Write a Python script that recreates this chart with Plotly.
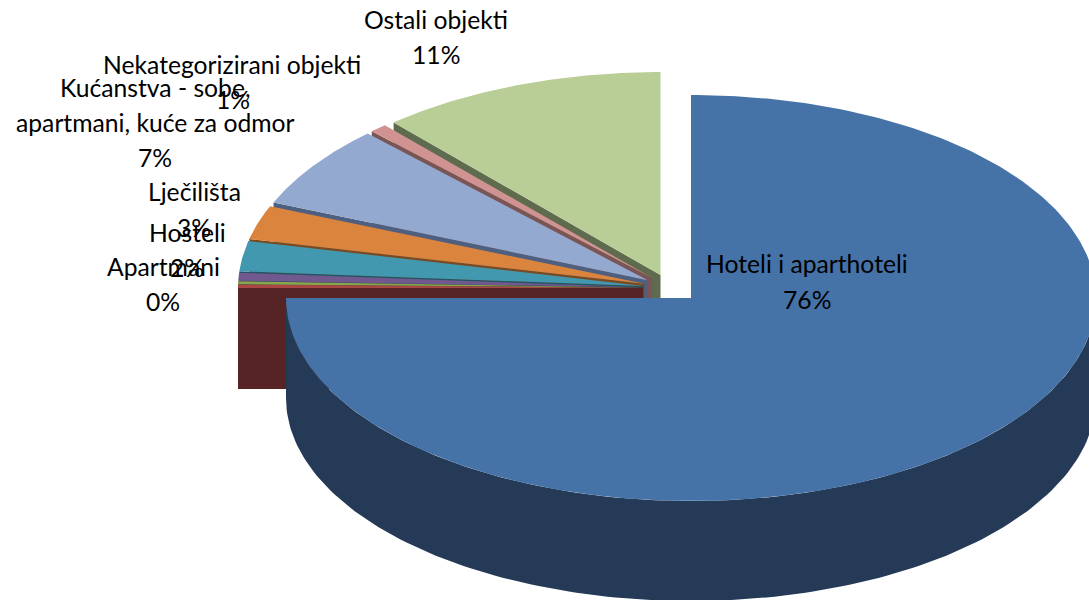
import numpy as np
import plotly.graph_objects as go

# data, clockwise from 12 o'clock (percent shares)
categories = ["Hoteli i aparthoteli", "Apartmani", "Kampovi", "Ostalo", "Hosteli", "Lječilišta",
              "Kućanstva", "Nekategorizirani objekti", "Ostali objekti"]
values = [75.0, 0.25, 0.25, 0.65, 2.4, 2.7, 6.6, 0.7, 11.45]
top_colors = ["#4572A7", "#AA4643", "#89A54E", "#71588F", "#4198AF", "#DB843D", "#93A9CF", "#D19392", "#B9CD96"]
side_colors = ["#243A57", "#562424", "#4A5A2A", "#3C2E4E", "#1F5566", "#7A4A20", "#4E5F7F", "#7A5555", "#5F6B4E"]

# label text: (line, x px, y px)
label_lines = ["Ostali objekti", "11%", "Nekategorizirani objekti", "1%", "Kućanstva - sobe,",
               "apartmani, kuće za odmor", "7%", "Lječilišta", "3%", "Hosteli", "2%",
               "Apartmani", "0%", "Hoteli i aparthoteli", "76%"]
label_x = [436, 436, 232, 233, 155, 155, 155, 194, 194, 187, 187, 163, 163, 807, 807]
label_y = [19, 54, 64, 99, 87, 122, 157, 191, 227, 232, 267, 266, 301, 263, 299]

W, H = 1089, 600
RX, RY = 405, 203
MAIN_C = (691, 298)
GROUP_C = (670, 288)
EXPLODE = (27, 13.8)
DEPTH_MAIN, DEPTH_GROUP = 100, 101

fig = go.Figure()


def poly(xs, ys, color):
    fig.add_trace(go.Scatter(x=list(xs), y=list(ys), mode="lines", fill="toself", fillcolor=color,
                             line=dict(width=0, color=color), hoverinfo="skip", showlegend=False))


def arc(c, a0, a1, n=160):
    t = np.radians(np.linspace(a0, a1, n))
    return c[0] + RX * np.sin(t), c[1] - RY * np.cos(t)


edges = np.concatenate([[0], np.cumsum(values)]) * 360 / sum(values)

# exploded small slices, painted from the back (top) to the front
for i in range(len(values) - 1, 0, -1):
    a0, a1 = edges[i], edges[i + 1]
    mid = np.radians((a0 + a1) / 2)
    c = (GROUP_C[0] + EXPLODE[0] * np.sin(mid), GROUP_C[1] - EXPLODE[1] * np.cos(mid))
    ox, oy = arc(c, a0, a0, 1)
    poly([c[0], ox[0], ox[0], c[0], c[0]],
         [c[1], oy[0], oy[0] + DEPTH_GROUP, c[1] + DEPTH_GROUP, c[1]], side_colors[i])
    ax, ay = arc(c, a0, a1)
    poly(np.r_[c[0], ax, c[0]], np.r_[c[1], ay, c[1]], top_colors[i])

# main slice: outer wall then top
wx, wy = arc(MAIN_C, 90, edges[1])
poly(np.r_[wx, wx[::-1], wx[0]], np.r_[wy, wy[::-1] + DEPTH_MAIN, wy[0]], side_colors[0])
tx, ty = arc(MAIN_C, 0, edges[1], 300)
poly(np.r_[MAIN_C[0], tx, MAIN_C[0]], np.r_[MAIN_C[1], ty, MAIN_C[1]], top_colors[0])

for s, x, y in zip(label_lines, label_x, label_y):
    fig.add_annotation(x=x, y=y, text=s, showarrow=False, xanchor="center", yanchor="middle",
                       font=dict(family="Lato", size=24.7, color="#000000"))

fig.update_xaxes(range=[0, W], visible=False, fixedrange=True)
fig.update_yaxes(range=[H, 0], visible=False, fixedrange=True)
fig.update_layout(width=W, height=H, margin=dict(l=0, r=0, t=0, b=0), autosize=False,
                  paper_bgcolor="white", plot_bgcolor="white", showlegend=False)
fig.write_html("out.html", config=dict(displayModeBar=False),
               post_script="document.body.style.margin='0';document.body.style.overflow='hidden';")
